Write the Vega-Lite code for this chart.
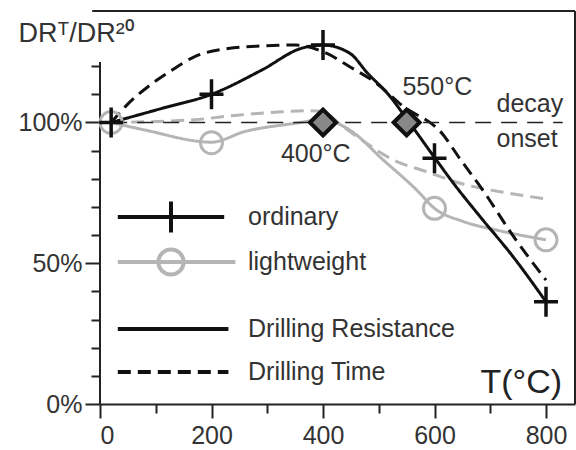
{
  "$schema": "https://vega.github.io/schema/vega-lite/v6.json",
  "width": 475,
  "height": 393,
  "autosize": {"type": "none"},
  "padding": {"left": 100, "top": 11, "right": 1, "bottom": 46},
  "background": "white",
  "config": {"font": "Liberation Sans", "view": {"stroke": null}, "axis": {"grid": false}},
  "datasets": {
    "curves": [
      {"series": "lightweight", "measure": "Drilling Resistance", "T": 20, "v": 100},
      {"series": "lightweight", "measure": "Drilling Resistance", "T": 81, "v": 97.3},
      {"series": "lightweight", "measure": "Drilling Resistance", "T": 200, "v": 93},
      {"series": "lightweight", "measure": "Drilling Resistance", "T": 260, "v": 96.8},
      {"series": "lightweight", "measure": "Drilling Resistance", "T": 350, "v": 99.7},
      {"series": "lightweight", "measure": "Drilling Resistance", "T": 400, "v": 101},
      {"series": "lightweight", "measure": "Drilling Resistance", "T": 448, "v": 97.3},
      {"series": "lightweight", "measure": "Drilling Resistance", "T": 508, "v": 86.7},
      {"series": "lightweight", "measure": "Drilling Resistance", "T": 568, "v": 76},
      {"series": "lightweight", "measure": "Drilling Resistance", "T": 600, "v": 69.5},
      {"series": "lightweight", "measure": "Drilling Resistance", "T": 652, "v": 64.8},
      {"series": "lightweight", "measure": "Drilling Resistance", "T": 711, "v": 61.8},
      {"series": "lightweight", "measure": "Drilling Resistance", "T": 800, "v": 58.3},
      {"series": "lightweight", "measure": "Drilling Time", "T": 20, "v": 100},
      {"series": "lightweight", "measure": "Drilling Time", "T": 170, "v": 101},
      {"series": "lightweight", "measure": "Drilling Time", "T": 242, "v": 102.5},
      {"series": "lightweight", "measure": "Drilling Time", "T": 326, "v": 103.8},
      {"series": "lightweight", "measure": "Drilling Time", "T": 373, "v": 104.2},
      {"series": "lightweight", "measure": "Drilling Time", "T": 400, "v": 103.8},
      {"series": "lightweight", "measure": "Drilling Time", "T": 436, "v": 98.5},
      {"series": "lightweight", "measure": "Drilling Time", "T": 478, "v": 92.6},
      {"series": "lightweight", "measure": "Drilling Time", "T": 526, "v": 86.7},
      {"series": "lightweight", "measure": "Drilling Time", "T": 586, "v": 82.5},
      {"series": "lightweight", "measure": "Drilling Time", "T": 646, "v": 78.4},
      {"series": "lightweight", "measure": "Drilling Time", "T": 735, "v": 74.8},
      {"series": "lightweight", "measure": "Drilling Time", "T": 795, "v": 73},
      {"series": "ordinary", "measure": "Drilling Resistance", "T": 20, "v": 100},
      {"series": "ordinary", "measure": "Drilling Resistance", "T": 111, "v": 105},
      {"series": "ordinary", "measure": "Drilling Resistance", "T": 200, "v": 110},
      {"series": "ordinary", "measure": "Drilling Resistance", "T": 290, "v": 118.6},
      {"series": "ordinary", "measure": "Drilling Resistance", "T": 362, "v": 126.4},
      {"series": "ordinary", "measure": "Drilling Resistance", "T": 400, "v": 127.5},
      {"series": "ordinary", "measure": "Drilling Resistance", "T": 448, "v": 124.6},
      {"series": "ordinary", "measure": "Drilling Resistance", "T": 480, "v": 117.5},
      {"series": "ordinary", "measure": "Drilling Resistance", "T": 517, "v": 110},
      {"series": "ordinary", "measure": "Drilling Resistance", "T": 553, "v": 100.5},
      {"series": "ordinary", "measure": "Drilling Resistance", "T": 601, "v": 87.3},
      {"series": "ordinary", "measure": "Drilling Resistance", "T": 634, "v": 78.4},
      {"series": "ordinary", "measure": "Drilling Resistance", "T": 682, "v": 66.5},
      {"series": "ordinary", "measure": "Drilling Resistance", "T": 741, "v": 52.3},
      {"series": "ordinary", "measure": "Drilling Resistance", "T": 800, "v": 36.3},
      {"series": "ordinary", "measure": "Drilling Time", "T": 20, "v": 100},
      {"series": "ordinary", "measure": "Drilling Time", "T": 51, "v": 106.8},
      {"series": "ordinary", "measure": "Drilling Time", "T": 86, "v": 112.7},
      {"series": "ordinary", "measure": "Drilling Time", "T": 129, "v": 118.6},
      {"series": "ordinary", "measure": "Drilling Time", "T": 170, "v": 123.4},
      {"series": "ordinary", "measure": "Drilling Time", "T": 230, "v": 126.3},
      {"series": "ordinary", "measure": "Drilling Time", "T": 290, "v": 127.2},
      {"series": "ordinary", "measure": "Drilling Time", "T": 350, "v": 127.5},
      {"series": "ordinary", "measure": "Drilling Time", "T": 406, "v": 124.6},
      {"series": "ordinary", "measure": "Drilling Time", "T": 448, "v": 119.8},
      {"series": "ordinary", "measure": "Drilling Time", "T": 496, "v": 113.9},
      {"series": "ordinary", "measure": "Drilling Time", "T": 542, "v": 106},
      {"series": "ordinary", "measure": "Drilling Time", "T": 614, "v": 96},
      {"series": "ordinary", "measure": "Drilling Time", "T": 646, "v": 87},
      {"series": "ordinary", "measure": "Drilling Time", "T": 690, "v": 75},
      {"series": "ordinary", "measure": "Drilling Time", "T": 740, "v": 60},
      {"series": "ordinary", "measure": "Drilling Time", "T": 800, "v": 44}
    ],
    "markers": [
      {"series": "lightweight", "T": 20, "v": 100},
      {"series": "lightweight", "T": 200, "v": 92.8},
      {"series": "lightweight", "T": 600, "v": 69.5},
      {"series": "lightweight", "T": 800, "v": 58.3},
      {"series": "ordinary", "T": 20, "v": 100},
      {"series": "ordinary", "T": 200, "v": 110},
      {"series": "ordinary", "T": 400, "v": 127.5},
      {"series": "ordinary", "T": 600, "v": 87.3},
      {"series": "ordinary", "T": 800, "v": 36.3}
    ],
    "onset": [
      {"T": 400, "v": 100},
      {"T": 550, "v": 100}
    ],
    "labels": [
      {"T": 605, "v": 109.8, "label": "550°C"},
      {"T": 387, "v": 86.1, "label": "400°C"},
      {"T": 771, "v": 103.8, "label": "decay"},
      {"T": 766, "v": 91.4, "label": "onset"}
    ],
    "ref": [{"T0": 20, "T1": 830, "v": 100}]
  },
  "resolve": {"axis": {"x": "independent", "y": "independent"}},
  "layer": [
    {
      "data": {"name": "curves"},
      "mark": {"type": "line", "strokeWidth": 3, "interpolate": "monotone"},
      "encoding": {
        "x": {
          "field": "T", "type": "quantitative",
          "scale": {"domain": [0, 852], "nice": false, "zero": false},
          "axis": {
            "orient": "bottom", "values": [0, 200, 400, 600, 800], "tickSize": 14, "tickWidth": 2,
            "tickColor": "#222", "domainColor": "#222", "domainWidth": 2, "labelFontSize": 25,
            "labelColor": "#333", "labelPadding": 5, "title": "T(°C)", "titleFontSize": 34,
            "titleFontWeight": "normal", "titleColor": "#222", "titleX": 380, "titleY": -12,
            "titleAlign": "left", "titleBaseline": "alphabetic", "titleAnchor": null
          }
        },
        "y": {
          "field": "v", "type": "quantitative",
          "scale": {"domain": [0, 139.6], "nice": false, "zero": false},
          "axis": {
            "orient": "left", "values": [0, 50, 100], "labelExpr": "datum.value + '%'", "tickSize": 15,
            "tickWidth": 2, "tickColor": "#222", "domain": false, "labelFontSize": 25, "labelColor": "#333",
            "labelPadding": 3, "title": "DRᵀ/DR²⁰", "titleAngle": 0, "titleX": -82, "titleY": 30,
            "titleAlign": "left", "titleBaseline": "alphabetic", "titleFontSize": 27,
            "titleFontWeight": "normal", "titleColor": "#333", "titleAnchor": null
          }
        },
        "color": {
          "field": "series", "type": "nominal",
          "scale": {"domain": ["ordinary", "lightweight"], "range": ["#111111", "#b5b5b5"]},
          "legend": {
            "orient": "none", "legendX": 55, "legendY": 190, "title": null, "padding": 0,
            "symbolType": "M-3.8,0H3.8", "symbolSize": 784, "symbolStrokeWidth": 4,
            "symbolFillColor": "transparent", "labelFontSize": 25, "labelColor": "#333",
            "labelOffset": 61, "rowPadding": 0, "labelLimit": 0,
            "encode": {
              "symbols": {
                "update": {
                  "shape": {"signal": "datum.value === 'ordinary' ? 'M-3.8,0H3.8M0,-1.1V1.1' : 'M-3.8,0H4.6M0.9,0A0.9,0.9 0 1,1 -0.9,0A0.9,0.9 0 1,1 0.9,0'"},
                  "fill": {"value": "transparent"}
                }
              }
            }
          }
        },
        "strokeDash": {
          "field": "measure", "type": "nominal",
          "scale": {"domain": ["Drilling Resistance", "Drilling Time"], "range": [[1, 0], [13, 7]]},
          "legend": {
            "orient": "none", "legendX": 55, "legendY": 302, "title": null, "padding": 0,
            "symbolType": "M-3.8,0H4.1", "symbolSize": 784, "symbolStrokeWidth": 4,
            "symbolStrokeColor": "#111111", "symbolFillColor": "transparent", "labelFontSize": 25,
            "labelColor": "#333", "labelOffset": 61, "rowPadding": 14, "labelLimit": 0
          }
        }
      }
    },
    {
      "data": {"name": "ref"},
      "mark": {"type": "rule", "strokeDash": [16, 10], "strokeWidth": 1.6, "color": "#222"},
      "encoding": {
        "x": {
          "field": "T0", "type": "quantitative",
          "axis": {"orient": "bottom", "values": [100, 300, 500, 700], "tickSize": 9, "tickWidth": 2, "tickColor": "#222", "labels": false, "domain": false, "title": null}
        },
        "x2": {"field": "T1"},
        "y": {
          "field": "v", "type": "quantitative",
          "axis": {"orient": "left", "values": [10, 20, 30, 40, 60, 70, 80, 90, 110, 120], "tickSize": 9, "tickWidth": 2, "tickColor": "#222", "labels": false, "domain": false, "title": null}
        }
      }
    },
    {
      "data": {"values": [{}]},
      "mark": {"type": "rule", "strokeWidth": 2, "color": "#222"},
      "encoding": {
        "x": {"datum": 0, "type": "quantitative", "axis": null},
        "y": {"datum": 0, "type": "quantitative", "axis": null},
        "y2": {"datum": 121.5}
      }
    },
    {
      "data": {"values": [{}]},
      "mark": {"type": "rule", "strokeWidth": 2, "color": "#222"},
      "encoding": {
        "x": {"datum": -14, "type": "quantitative", "axis": null},
        "x2": {"datum": 852},
        "y": {"datum": 139.6, "type": "quantitative", "axis": null}
      }
    },
    {
      "data": {"values": [{}]},
      "mark": {"type": "rule", "strokeWidth": 2, "color": "#222"},
      "encoding": {
        "x": {"datum": 852, "type": "quantitative", "axis": null},
        "y": {"datum": 0, "type": "quantitative", "axis": null},
        "y2": {"datum": 139.6}
      }
    },
    {
      "data": {"name": "markers"},
      "transform": [{"filter": "datum.series === 'lightweight'"}],
      "mark": {"type": "point", "shape": "circle", "size": 484, "filled": false, "stroke": "#b5b5b5", "strokeWidth": 3, "opacity": 1},
      "encoding": {
        "x": {"field": "T", "type": "quantitative", "axis": null},
        "y": {"field": "v", "type": "quantitative", "axis": null}
      }
    },
    {
      "data": {"name": "markers"},
      "transform": [{"filter": "datum.series === 'ordinary'"}],
      "mark": {"type": "point", "shape": "M-0.8,0H0.8M0,-1V1", "size": 900, "filled": false, "stroke": "#111111", "strokeWidth": 3.5, "opacity": 1},
      "encoding": {
        "x": {"field": "T", "type": "quantitative", "axis": null},
        "y": {"field": "v", "type": "quantitative", "axis": null}
      }
    },
    {
      "data": {"name": "onset"},
      "mark": {"type": "point", "shape": "diamond", "size": 676, "filled": true, "fill": "#888888", "stroke": "#111111", "strokeWidth": 4, "opacity": 1},
      "encoding": {
        "x": {"field": "T", "type": "quantitative", "axis": null},
        "y": {"field": "v", "type": "quantitative", "axis": null}
      }
    },
    {
      "data": {"name": "labels"},
      "mark": {"type": "text", "fontSize": 25, "color": "#333", "align": "center", "baseline": "alphabetic"},
      "encoding": {
        "x": {"field": "T", "type": "quantitative", "axis": null},
        "y": {"field": "v", "type": "quantitative", "axis": null},
        "text": {"field": "label"}
      }
    }
  ]
}
